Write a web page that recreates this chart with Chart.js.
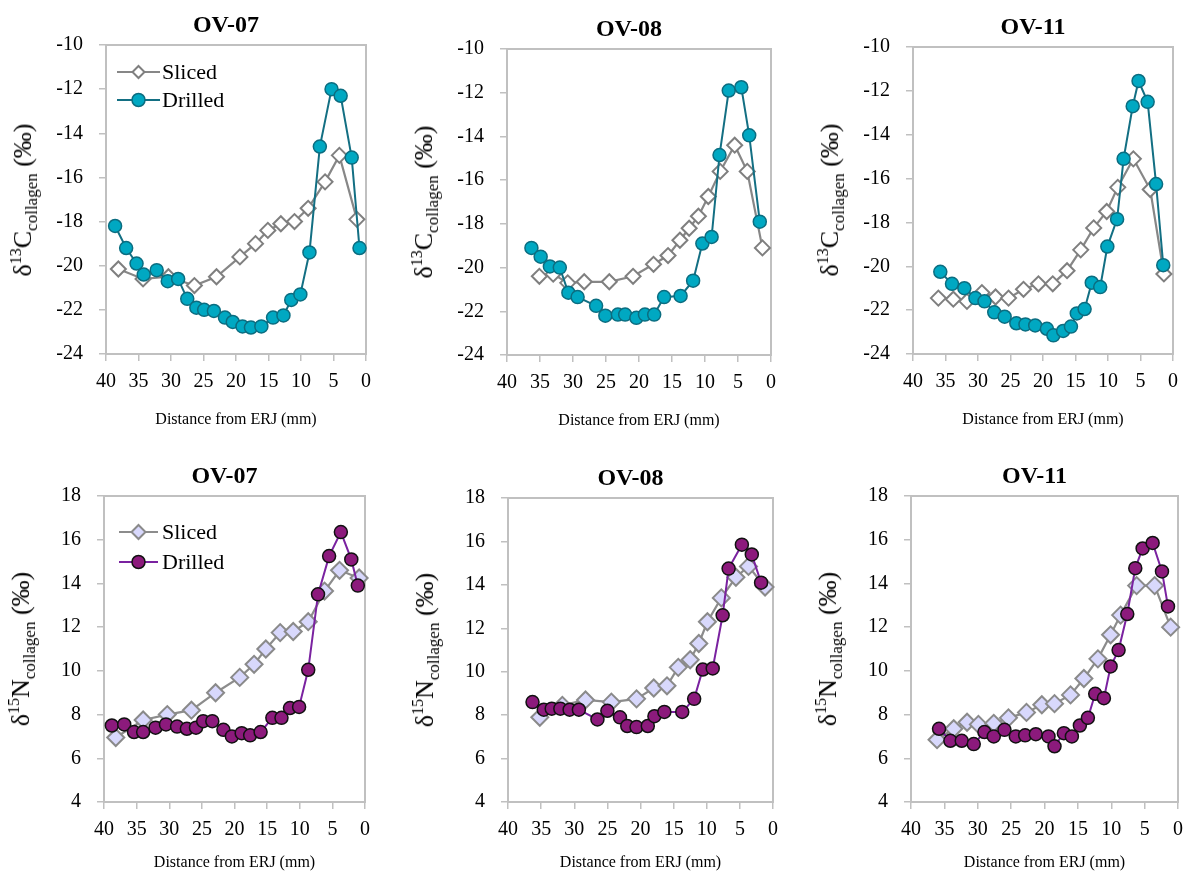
<!DOCTYPE html>
<html lang="en">
<head>
<meta charset="UTF-8">
<title>Sliced vs drilled collagen profiles</title>
<script src="https://cdn.jsdelivr.net/npm/chart.js"></script>
<style>
  body {
    margin: 0;
    width: 1186px;
    height: 874px;
    overflow: hidden;
    position: relative;
    background: #fff;
    font-family: 'Liberation Serif', 'DejaVu Serif', serif;
  }
  canvas { position: absolute; }
  .ytitle {
    position: absolute;
    white-space: nowrap;
    transform: translate(-50%, -50%) rotate(-90deg);
    font-size: 26px;
    color: #000;
    line-height: 1;
  }
  .ytitle sup { font-size: 16px; vertical-align: 10px; }
  .ytitle sub { font-size: 17px; vertical-align: -6px; }
  .ptitle {
    position: absolute;
    white-space: nowrap;
    transform: translate(-50%, -50%);
    font-size: 24px;
    font-weight: bold;
    color: #000;
    line-height: 1;
  }
</style>
</head>
<body>
<script>
// distance from ERJ (mm) and delta values
const xTicks = [0, 5, 10, 15, 20, 25, 30, 35, 40];
const cTicks = [-24, -22, -20, -18, -16, -14, -12, -10];
const nTicks = [4, 6, 8, 10, 12, 14, 16, 18];

// d13C, OV-07
const c07SlicedX = [38.1, 34.3, 30.4, 26.4, 23.0, 19.4, 17.0, 15.1, 13.1, 11.0, 8.9, 6.3, 4.1, 1.4];
const c07SlicedY = [-20.15, -20.6, -20.5, -20.9, -20.5, -19.6, -19.0, -18.4, -18.1, -18.0, -17.4, -16.2, -15.0, -17.9];
const c07DrilledX = [38.6, 36.9, 35.3, 34.2, 32.2, 30.5, 28.9, 27.5, 26.1, 24.9, 23.4, 21.7, 20.5, 19.0, 17.7, 16.1, 14.3, 12.7, 11.5, 10.1, 8.7, 7.1, 5.3, 3.9, 2.2, 1.0];
const c07DrilledY = [-18.2, -19.2, -19.9, -20.4, -20.2, -20.7, -20.6, -21.5, -21.9, -22.0, -22.05, -22.35, -22.55, -22.75, -22.8, -22.75, -22.35, -22.25, -21.55, -21.3, -19.4, -14.6, -12.0, -12.3, -15.1, -19.2];

// d13C, OV-08
const c08SlicedX = [35.1, 33.0, 30.8, 28.3, 24.5, 20.9, 17.8, 15.6, 13.8, 12.4, 11.0, 9.5, 7.7, 5.5, 3.6, 1.3];
const c08SlicedY = [-20.4, -20.3, -20.7, -20.65, -20.65, -20.4, -19.85, -19.45, -18.75, -18.2, -17.65, -16.75, -15.6, -14.4, -15.6, -19.1];
const c08DrilledX = [36.3, 34.9, 33.5, 32.0, 30.7, 29.3, 26.5, 25.1, 23.2, 22.1, 20.4, 19.1, 17.7, 16.2, 13.7, 11.8, 10.4, 9.0, 7.8, 6.4, 4.5, 3.3, 1.7];
const c08DrilledY = [-19.1, -19.5, -19.95, -20.0, -21.15, -21.35, -21.75, -22.2, -22.15, -22.15, -22.3, -22.15, -22.15, -21.35, -21.3, -20.6, -18.9, -18.6, -14.85, -11.9, -11.75, -13.95, -17.9];

// d13C, OV-11
const c11SlicedX = [36.1, 33.8, 31.7, 29.4, 27.3, 25.3, 23.0, 20.7, 18.5, 16.3, 14.2, 12.2, 10.2, 8.5, 6.1, 3.5, 1.4];
const c11SlicedY = [-21.45, -21.5, -21.6, -21.2, -21.4, -21.45, -21.05, -20.8, -20.8, -20.2, -19.25, -18.25, -17.5, -16.4, -15.1, -16.5, -20.35];
const c11DrilledX = [35.8, 34.0, 32.1, 30.4, 29.0, 27.5, 25.9, 24.1, 22.7, 21.2, 19.4, 18.4, 16.9, 15.7, 14.8, 13.6, 12.5, 11.2, 10.1, 8.6, 7.6, 6.2, 5.3, 3.9, 2.6, 1.5];
const c11DrilledY = [-20.25, -20.8, -21.0, -21.45, -21.6, -22.1, -22.3, -22.6, -22.65, -22.7, -22.85, -23.15, -22.95, -22.75, -22.15, -21.95, -20.75, -20.95, -19.1, -17.85, -15.1, -12.7, -11.55, -12.5, -16.25, -19.95];

// d15N, OV-07
const n07SlicedX = [38.2, 34.0, 30.3, 26.6, 22.9, 19.2, 17.0, 15.2, 13.0, 11.0, 8.7, 6.2, 3.9, 0.9];
const n07SlicedY = [6.95, 7.75, 8.0, 8.2, 9.0, 9.7, 10.3, 11.0, 11.75, 11.8, 12.25, 13.65, 14.6, 14.25];
const n07DrilledX = [38.8, 36.9, 35.4, 34.0, 32.1, 30.5, 28.8, 27.3, 25.9, 24.8, 23.4, 21.7, 20.4, 18.9, 17.6, 16.0, 14.2, 12.8, 11.5, 10.1, 8.7, 7.2, 5.5, 3.7, 2.1, 1.1];
const n07DrilledY = [7.5, 7.55, 7.2, 7.2, 7.4, 7.55, 7.45, 7.35, 7.4, 7.7, 7.7, 7.3, 7.0, 7.15, 7.05, 7.2, 7.85, 7.85, 8.3, 8.35, 10.05, 13.5, 15.25, 16.35, 15.1, 13.9];

// d15N, OV-08
const n08SlicedX = [35.2, 31.8, 28.3, 24.4, 20.6, 18.0, 16.0, 14.3, 12.5, 11.2, 9.9, 7.8, 5.6, 3.7, 1.2];
const n08SlicedY = [7.9, 8.45, 8.7, 8.6, 8.75, 9.25, 9.35, 10.2, 10.55, 11.3, 12.3, 13.4, 14.35, 14.85, 13.9];
const n08DrilledX = [36.3, 34.6, 33.4, 32.1, 30.7, 29.3, 26.5, 25.0, 23.1, 22.0, 20.6, 18.9, 17.9, 16.4, 13.7, 11.9, 10.6, 9.1, 7.6, 6.7, 4.7, 3.2, 1.8];
const n08DrilledY = [8.6, 8.25, 8.3, 8.3, 8.25, 8.25, 7.8, 8.2, 7.9, 7.5, 7.45, 7.5, 7.95, 8.15, 8.15, 8.75, 10.1, 10.15, 12.6, 14.75, 15.85, 15.4, 14.1];

// d15N, OV-11
const n11SlicedX = [36.1, 33.6, 31.6, 29.9, 27.6, 25.4, 22.7, 20.4, 18.5, 16.1, 14.1, 12.0, 10.1, 8.6, 6.2, 3.5, 1.1];
const n11SlicedY = [6.85, 7.35, 7.65, 7.55, 7.6, 7.85, 8.1, 8.45, 8.5, 8.9, 9.65, 10.55, 11.65, 12.55, 13.9, 13.9, 12.0];
const n11DrilledX = [35.8, 34.1, 32.4, 30.6, 29.0, 27.6, 26.0, 24.3, 22.9, 21.3, 19.4, 18.5, 17.1, 15.9, 14.7, 13.5, 12.4, 11.1, 10.1, 8.9, 7.6, 6.4, 5.3, 3.8, 2.4, 1.5];
const n11DrilledY = [7.35, 6.8, 6.8, 6.65, 7.2, 7.0, 7.3, 7.0, 7.05, 7.1, 7.0, 6.55, 7.15, 7.0, 7.5, 7.85, 8.95, 8.75, 10.2, 10.95, 12.6, 14.7, 15.6, 15.85, 14.55, 12.95];

const FONT = "'Liberation Serif', 'DejaVu Serif', serif";
Chart.defaults.font.family = FONT;
Chart.defaults.color = '#000';

const styles = {
  C: {
    sliced: { line: '#878787', border: '#7f7f7f', fill: '#ffffff', r: 7.5, lr: 6 },
    drilled: { line: '#136f83', border: '#0b6d80', fill: '#00a8c2', r: 6.5, lr: 6.5 },
    ticks: cTicks,
    ytitle: 'δ<sup>13</sup>C<sub>collagen</sub> (‰)'
  },
  N: {
    sliced: { line: '#8c8c8c', border: '#8a8a8a', fill: '#d8d8fc', r: 8.5, lr: 7 },
    drilled: { line: '#7a22a0', border: '#111111', fill: '#8c1a7c', r: 6.5, lr: 6.5 },
    ticks: nTicks,
    ytitle: 'δ<sup>15</sup>N<sub>collagen</sub> (‰)'
  }
};

// plot rectangles [left, top, right, bottom] in page pixels
const panels = [
  { kind: 'C', title: 'OV-07', box: [106, 45, 366, 354], sx: c07SlicedX, sy: c07SlicedY, dx: c07DrilledX, dy: c07DrilledY, legend: [11, 54, 27, 55, 56], xtPad: 8 },
  { kind: 'C', title: 'OV-08', box: [507, 48.5, 771, 355], sx: c08SlicedX, sy: c08SlicedY, dx: c08DrilledX, dy: c08DrilledY, xtPad: 8 },
  { kind: 'C', title: 'OV-11', box: [913, 46.5, 1173, 353.5], sx: c11SlicedX, sy: c11SlicedY, dx: c11DrilledX, dy: c11DrilledY, xtPad: 8 },
  { kind: 'N', title: 'OV-07', box: [104, 496, 365, 802], sx: n07SlicedX, sy: n07SlicedY, dx: n07DrilledX, dy: n07DrilledY, legend: [15, 54, 36, 66, 58], xtPad: 13 },
  { kind: 'N', title: 'OV-08', box: [508, 498, 773, 802], sx: n08SlicedX, sy: n08SlicedY, dx: n08DrilledX, dy: n08DrilledY, xtPad: 13 },
  { kind: 'N', title: 'OV-11', box: [911, 496, 1178, 802], sx: n11SlicedX, sy: n11SlicedY, dx: n11DrilledX, dy: n11DrilledY, xtPad: 13 }
];

function pts(xs, ys) {
  return xs.map((x, i) => ({ x: x, y: ys[i] }));
}

function marker(ctx, shape, x, y, r, fill, border, bw) {
  ctx.beginPath();
  if (shape === 'circle') {
    ctx.arc(x, y, r, 0, Math.PI * 2);
  } else {
    ctx.moveTo(x, y - r);
    ctx.lineTo(x + r, y);
    ctx.lineTo(x, y + r);
    ctx.lineTo(x - r, y);
    ctx.closePath();
  }
  ctx.fillStyle = fill;
  ctx.fill();
  ctx.lineWidth = bw;
  ctx.strokeStyle = border;
  ctx.stroke();
}

// grey box round the plot area
const framePlugin = {
  id: 'frame',
  beforeDatasetsDraw(chart) {
    const a = chart.chartArea;
    const ctx = chart.ctx;
    ctx.save();
    ctx.strokeStyle = '#c0c0c0';
    ctx.lineWidth = 2;
    ctx.strokeRect(a.left, a.top, a.right - a.left, a.bottom - a.top);
    ctx.restore();
  }
};

// legend drawn inside the plot, line through the marker like the original
const innerLegend = {
  id: 'innerLegend',
  afterDatasetsDraw(chart, args, opts) {
    if (!opts.pos) return;
    const [x0, x1, y1, y2, tx] = opts.pos;
    const st = opts.st;
    const a = chart.chartArea;
    const ctx = chart.ctx;
    const rows = [
      { label: 'Sliced', s: st.sliced, shape: 'diamond', y: y1, bw: 2 },
      { label: 'Drilled', s: st.drilled, shape: 'circle', y: y2, bw: 1.5 }
    ];
    ctx.save();
    rows.forEach(row => {
      const y = a.top + row.y;
      ctx.beginPath();
      ctx.moveTo(a.left + x0, y);
      ctx.lineTo(a.left + x1, y);
      ctx.strokeStyle = row.s.line;
      ctx.lineWidth = 2;
      ctx.stroke();
      marker(ctx, row.shape, a.left + (x0 + x1) / 2, y, row.s.lr, row.s.fill, row.s.border, row.bw);
      ctx.fillStyle = '#000';
      ctx.font = '22px ' + FONT;
      ctx.textAlign = 'left';
      ctx.textBaseline = 'middle';
      ctx.fillText(row.label, a.left + tx, y + 1);
    });
    ctx.restore();
  }
};

panels.forEach(p => {
  const st = styles[p.kind];
  const [l, t, r, b] = p.box;
  const W = 106 + (r - l) + 20;
  const H = 45 + (b - t) + 83;

  const cv = document.createElement('canvas');
  cv.width = W;
  cv.height = H;
  cv.style.left = (l - 106) + 'px';
  cv.style.top = (t - 45) + 'px';
  document.body.appendChild(cv);

  const tt = document.createElement('div');
  tt.className = 'ptitle';
  tt.textContent = p.title;
  tt.style.left = ((l + r) / 2 - 10) + 'px';
  tt.style.top = (t - 21) + 'px';
  document.body.appendChild(tt);

  const yt = document.createElement('div');
  yt.className = 'ytitle';
  yt.innerHTML = st.ytitle;
  yt.style.left = (l - 82) + 'px';
  yt.style.top = ((t + b) / 2) + 'px';
  document.body.appendChild(yt);

  const tickGrid = { drawOnChartArea: false, drawTicks: true, tickLength: 7, color: '#c0c0c0', lineWidth: 1.5 };

  new Chart(cv, {
    type: 'line',
    data: {
      datasets: [
        {
          label: 'Drilled',
          data: pts(p.dx, p.dy),
          borderColor: st.drilled.line,
          borderWidth: 2,
          pointStyle: 'circle',
          pointRadius: st.drilled.r,
          pointBackgroundColor: st.drilled.fill,
          pointBorderColor: st.drilled.border,
          pointBorderWidth: 1.5,
          tension: 0,
          clip: 12
        },
        {
          label: 'Sliced',
          data: pts(p.sx, p.sy),
          borderColor: st.sliced.line,
          borderWidth: 2.2,
          pointStyle: 'rectRot',
          pointRadius: st.sliced.r,
          pointBackgroundColor: st.sliced.fill,
          pointBorderColor: st.sliced.border,
          pointBorderWidth: 2,
          tension: 0,
          clip: 12
        }
      ]
    },
    options: {
      responsive: false,
      animation: false,
      devicePixelRatio: 1,
      layout: { padding: { left: 0, right: 20, top: 45, bottom: 0 } },
      plugins: {
        legend: { display: false },
        tooltip: { enabled: false },
        title: { display: false },
        innerLegend: { pos: p.legend, st: st }
      },
      scales: {
        x: {
          type: 'linear',
          reverse: true,
          min: xTicks[0],
          max: xTicks[xTicks.length - 1],
          afterBuildTicks: s => { s.ticks = xTicks.map(v => ({ value: v })); },
          afterFit: s => { s.height = 83; },
          grid: tickGrid,
          border: { display: false },
          ticks: { padding: 9, color: '#000', font: { family: FONT, size: 20 }, maxRotation: 0, autoSkip: false },
          title: {
            display: true,
            text: 'Distance from ERJ (mm)',
            color: '#000',
            font: { family: FONT, size: 16 },
            padding: { top: 0, bottom: p.xtPad }
          }
        },
        y: {
          min: st.ticks[0],
          max: st.ticks[st.ticks.length - 1],
          afterBuildTicks: s => { s.ticks = st.ticks.map(v => ({ value: v })); },
          afterFit: s => { s.width = 106; },
          grid: tickGrid,
          border: { display: false },
          ticks: { padding: 16, color: '#000', font: { family: FONT, size: 20 } }
        }
      }
    },
    plugins: [framePlugin, innerLegend]
  });
});
</script>
</body>
</html>
